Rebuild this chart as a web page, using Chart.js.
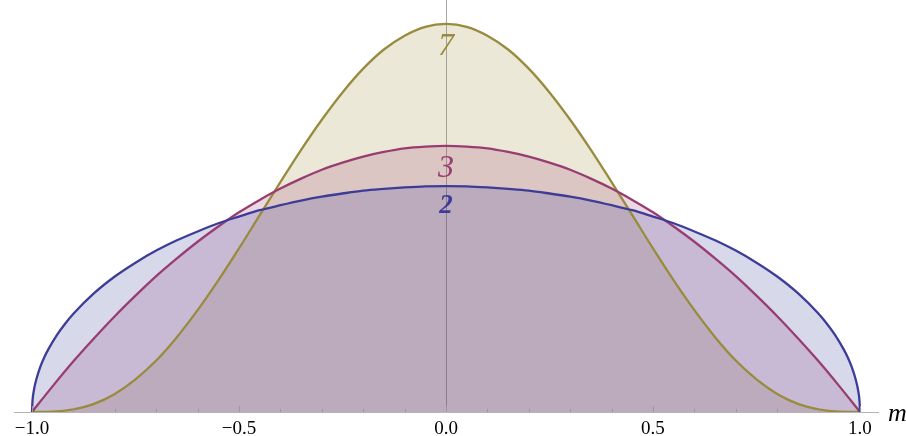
<!DOCTYPE html>
<html>
<head>
<meta charset="utf-8">
<script src="https://cdn.jsdelivr.net/npm/chart.js@4"></script>
<style>
  body { margin: 0; background: #fff; }
</style>
</head>
<body>
<canvas id="myChart" width="906" height="436"></canvas>
<script>
// values (height above the m axis)
const mBlue = [-1, -0.999, -0.995, -0.99, -0.98, -0.97, -0.96, -0.94, -0.92, -0.9, -0.85, -0.8, -0.75, -0.7, -0.65, -0.6, -0.55, -0.5, -0.45, -0.4, -0.35, -0.3, -0.25, -0.2, -0.15, -0.1, -0.05,
  0, 0.05, 0.1, 0.15, 0.2, 0.25, 0.3, 0.35, 0.4, 0.45, 0.5, 0.55, 0.6, 0.65, 0.7, 0.75, 0.8, 0.85, 0.9, 0.92, 0.94, 0.96, 0.97, 0.98, 0.99, 0.995, 0.999, 1];
const blueValues = [0, 0.028, 0.064, 0.090, 0.127, 0.155, 0.178, 0.217, 0.249, 0.277, 0.335, 0.382, 0.421, 0.455, 0.484, 0.509, 0.532, 0.551, 0.569, 0.583, 0.596, 0.607, 0.616, 0.624, 0.629, 0.633, 0.636,
  0.637, 0.636, 0.633, 0.629, 0.624, 0.616, 0.607, 0.596, 0.583, 0.569, 0.551, 0.532, 0.509, 0.484, 0.455, 0.421, 0.382, 0.335, 0.277, 0.249, 0.217, 0.178, 0.155, 0.127, 0.090, 0.064, 0.028, 0];

const mGrid = [-1, -0.95, -0.9, -0.85, -0.8, -0.75, -0.7, -0.65, -0.6, -0.55, -0.5, -0.45, -0.4, -0.35, -0.3, -0.25, -0.2, -0.15, -0.1, -0.05,
  0, 0.05, 0.1, 0.15, 0.2, 0.25, 0.3, 0.35, 0.4, 0.45, 0.5, 0.55, 0.6, 0.65, 0.7, 0.75, 0.8, 0.85, 0.9, 0.95, 1];
const magentaValues = [0, 0.073, 0.143, 0.208, 0.270, 0.328, 0.383, 0.433, 0.480, 0.523, 0.563, 0.598, 0.630, 0.658, 0.683, 0.703, 0.720, 0.733, 0.743, 0.748,
  0.750, 0.748, 0.743, 0.733, 0.720, 0.703, 0.683, 0.658, 0.630, 0.598, 0.563, 0.523, 0.480, 0.433, 0.383, 0.328, 0.270, 0.208, 0.143, 0.073, 0];
const oliveValues = [0, 0.001, 0.0075, 0.023, 0.051, 0.092, 0.145, 0.211, 0.287, 0.371, 0.461, 0.555, 0.648, 0.739, 0.824, 0.901, 0.968, 1.022, 1.061, 1.086,
  1.094, 1.086, 1.061, 1.022, 0.968, 0.901, 0.824, 0.739, 0.648, 0.555, 0.461, 0.371, 0.287, 0.211, 0.145, 0.092, 0.051, 0.023, 0.0075, 0.001, 0];

const tickValues = [-1, -0.5, 0, 0.5, 1];
const tickLabels = ['\u22121.0', '\u22120.5', '0.0', '0.5', '1.0'];

// curve labels placed on the m = 0 line
const curveLabels = ['2', '3', '7'];
const curveLabelBase = [0.561, 0.663, 1.006];

const BLUE = '#3D3D99';
const MAGENTA = '#993D71';
const OLIVE = '#998B3D';

function pts(xs, ys) {
  return xs.map((x, i) => ({ x: x, y: ys[i] }));
}

const decorations = {
  id: 'decorations',
  afterDatasetsDraw(chart) {
    const ctx = chart.ctx;
    const xs = chart.scales.x;
    const ys = chart.scales.y;
    const bottom = chart.chartArea.bottom;
    ctx.save();

    // minor / major ticks pointing up from the axis
    ctx.strokeStyle = '#999';
    ctx.lineWidth = 1;
    for (let k = -10; k <= 10; k++) {
      const px = Math.round(xs.getPixelForValue(k / 10)) + 0.5;
      const len = k % 5 === 0 ? 6 : 3;
      ctx.beginPath();
      ctx.moveTo(px, bottom);
      ctx.lineTo(px, bottom - len);
      ctx.stroke();
    }

    // curve labels
    const colors = [BLUE, MAGENTA, OLIVE];
    const fonts = ['italic bold 27px "Liberation Serif"', 'italic 32px "Liberation Serif"', 'italic 32px "Liberation Serif"'];
    ctx.textAlign = 'center';
    ctx.textBaseline = 'alphabetic';
    curveLabels.forEach((t, i) => {
      ctx.fillStyle = colors[i];
      ctx.font = fonts[i];
      ctx.fillText(t, xs.getPixelForValue(0), ys.getPixelForValue(curveLabelBase[i]));
    });

    // axis label
    ctx.fillStyle = '#000';
    ctx.font = 'italic 26px "Liberation Serif"';
    ctx.textAlign = 'left';
    ctx.fillText('m', chart.chartArea.right + 10, bottom + 9);
    ctx.restore();
  }
};

new Chart(document.getElementById('myChart'), {
  type: 'line',
  data: {
    datasets: [
      { label: '2', data: pts(mBlue, blueValues), borderColor: BLUE, backgroundColor: 'rgba(61,61,153,0.2)' },
      { label: '3', data: pts(mGrid, magentaValues), borderColor: MAGENTA, backgroundColor: 'rgba(153,61,113,0.2)' },
      { label: '7', data: pts(mGrid, oliveValues), borderColor: OLIVE, backgroundColor: 'rgba(153,139,61,0.2)' }
    ].map(d => Object.assign(d, {
      fill: 'origin',
      borderWidth: 2.3,
      pointRadius: 0,
      cubicInterpolationMode: 'monotone'
    }))
  },
  options: {
    responsive: false,
    animation: false,
    layout: { padding: { left: 14, right: 28, top: 0, bottom: 0 } },
    plugins: {
      legend: { display: false },
      tooltip: { enabled: false },
      filler: { drawTime: 'beforeDatasetsDraw' }
    },
    scales: {
      x: {
        type: 'linear',
        min: -1.0435,
        max: 1.0435,
        afterBuildTicks: s => { s.ticks = tickValues.map(v => ({ value: v })); },
        afterFit: s => { s.height = 24; },
        ticks: {
          autoSkip: false,
          maxRotation: 0,
          padding: 6,
          color: '#000',
          font: { family: 'Liberation Serif', size: 19 },
          callback: (v, i) => tickLabels[i]
        },
        grid: {
          drawTicks: false,
          color: c => (c.tick && c.tick.value === 0 ? '#a8a8a8' : 'rgba(0,0,0,0)')
        },
        border: { color: '#b4b4b4' }
      },
      y: {
        display: false,
        min: 0,
        max: 1.1615
      }
    }
  },
  plugins: [decorations]
});
</script>
</body>
</html>
